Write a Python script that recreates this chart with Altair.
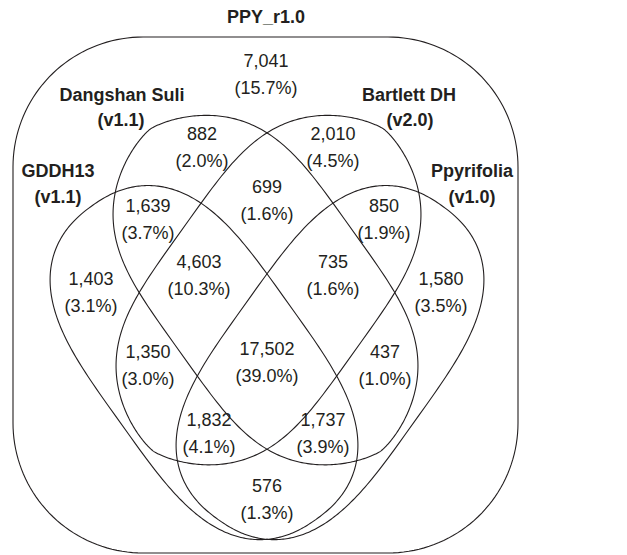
import numpy as np
import pandas as pd
import altair as alt

# ---------------- data ----------------
counts = [7041, 882, 2010, 699, 1639, 850, 4603, 735, 1403, 1580, 1350, 17502, 437, 1832, 1737, 576]
pcts = [15.7, 2.0, 4.5, 1.6, 3.7, 1.9, 10.3, 1.6, 3.1, 3.5, 3.0, 39.0, 1.0, 4.1, 3.9, 1.3]
set_names = ["Dangshan Suli", "(v1.1)", "Bartlett DH", "(v2.0)", "GDDH13", "(v1.1)", "Ppyrifolia", "(v1.0)"]
title_text = "PPY_r1.0"

# ---------------- layout (page pixels) ----------------
lab_x = [266, 202, 333, 267, 148, 384, 199, 333, 91, 441, 148, 267, 385, 209, 323, 267]
lab_y = [62, 135, 135, 188, 207, 207, 263, 263, 280, 280, 353, 350, 353, 421, 421, 487]
set_x = [122, 121, 409, 410, 58, 58, 472, 472]
set_y = [96, 121, 96, 121, 172, 198, 172, 198]
mirror_axis = 267
# superellipse shapes: centre x, centre y, semi-axis a, semi-axis b, angle (rad), exponent p, exponent q
shape_outer = [204.0, 362.6, 192.7, 103.0, 0.95, 3.54, 2.27]   # GDDH13 (mirrored: Ppyrifolia)
shape_inner = [265.5, 290.1, 198.0, 105.5, 0.95, 3.91, 1.50]   # Dangshan Suli (mirrored: Bartlett DH)
frame = [13, 518, 37, 553, 130]                                  # rounded frame: x0, x1, y0, y1, radius


def superellipse(prm, n=400):
    cx, cy, a, b, ph, p, q = prm
    t = np.linspace(0, 2 * np.pi, n)
    u = a * np.sign(np.cos(t)) * np.abs(np.cos(t)) ** (2 / p)
    v = b * np.sign(np.sin(t)) * np.abs(np.sin(t)) ** (2 / q)
    c, s = np.cos(ph), np.sin(ph)
    return cx + u * c - v * s, cy + u * s + v * c


def rrect(x0, x1, y0, y1, r):
    xs, ys = [], []
    for cx, cy, a0 in [(x1 - r, y0 + r, -90), (x1 - r, y1 - r, 0), (x0 + r, y1 - r, 90), (x0 + r, y0 + r, 180)]:
        t = np.radians(np.linspace(a0, a0 + 90, 40))
        xs += list(cx + r * np.cos(t))
        ys += list(cy + r * np.sin(t))
    xs.append(xs[0]); ys.append(ys[0])
    return xs, ys


rows = []
def add(name, xs, ys):
    for i, (x, y) in enumerate(zip(xs, ys)):
        rows.append({"shape": name, "o": i, "x": float(x), "y": float(y)})

ox, oy = superellipse(shape_outer)
add("GDDH13", ox, oy)
add("Ppyrifolia", 2 * mirror_axis - ox, oy)
ix, iy = superellipse(shape_inner)
add("Dangshan", ix, iy)
add("Bartlett", 2 * mirror_axis - ix, iy)
fx, fy = rrect(*frame)
add("PPY", fx, fy)
shapes = pd.DataFrame(rows)

xs = alt.Scale(domain=[8, 619])
ys = alt.Scale(domain=[555, 8])
ink = "#231f20"

lines = alt.Chart(shapes).mark_line(color=ink, strokeWidth=1.1, clip=False).encode(
    x=alt.X("x:Q", scale=xs, axis=None),
    y=alt.Y("y:Q", scale=ys, axis=None),
    detail="shape:N", order="o:Q")

nums = pd.DataFrame({"t": [f"{c:,}" for c in counts], "x": lab_x, "y": lab_y})
pct = pd.DataFrame({"t": [f"({p:.1f}%)" for p in pcts], "x": lab_x, "y": [v + 27 for v in lab_y]})
tnum = alt.Chart(nums).mark_text(font="Liberation Sans", fontSize=18, color=ink, baseline="middle").encode(
    x=alt.X("x:Q", scale=xs), y=alt.Y("y:Q", scale=ys), text="t:N")
tpct = alt.Chart(pct).mark_text(font="Liberation Sans", fontSize=18, color=ink, baseline="middle").encode(
    x=alt.X("x:Q", scale=xs), y=alt.Y("y:Q", scale=ys), text="t:N")
sets = pd.DataFrame({"t": set_names + [title_text], "x": set_x + [266], "y": set_y + [18]})
tset = alt.Chart(sets).mark_text(font="Liberation Sans", fontSize=18, fontWeight="bold", color=ink,
                                 baseline="middle").encode(
    x=alt.X("x:Q", scale=xs), y=alt.Y("y:Q", scale=ys), text="t:N")

chart = alt.layer(lines, tnum, tpct, tset).properties(
    width=611, height=547, padding=0, autosize="none").configure_view(stroke=None)
chart.save("out.html", embed_options={"renderer": "svg", "actions": False})
